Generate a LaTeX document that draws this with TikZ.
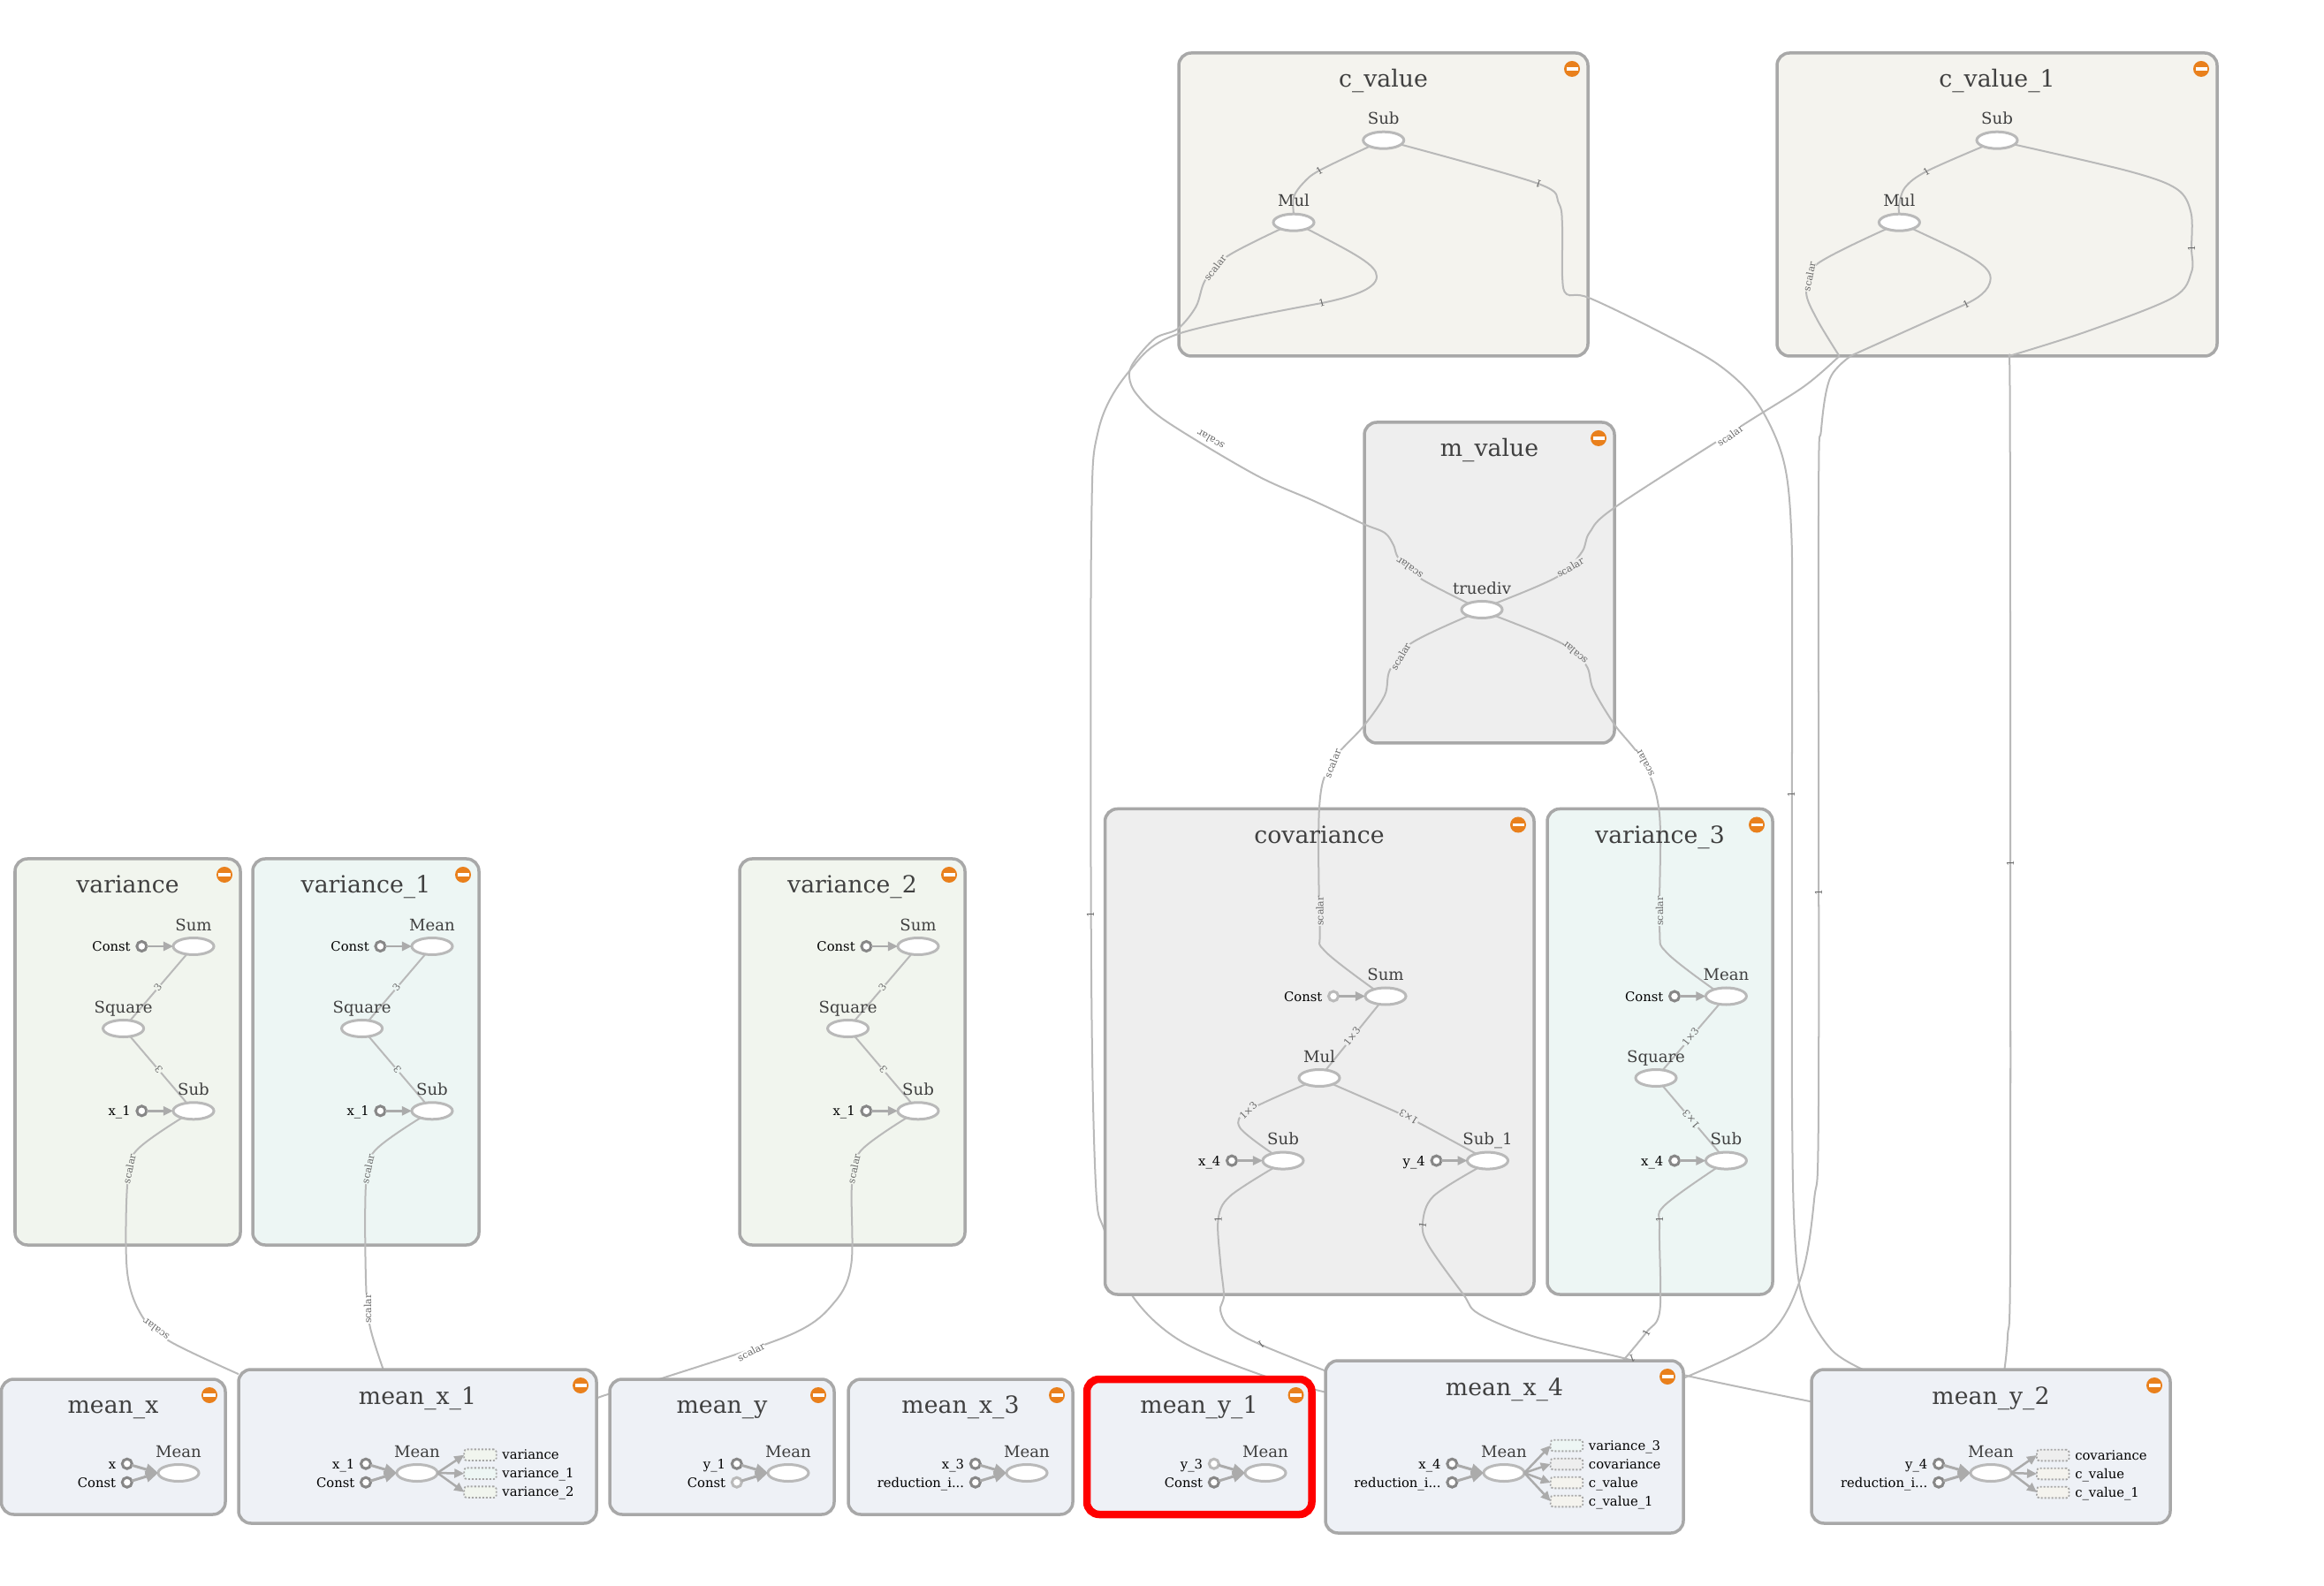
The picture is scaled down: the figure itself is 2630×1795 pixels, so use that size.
\documentclass[tikz,border=0pt]{standalone}
\usepackage{fontspec}
\setmainfont{DejaVu Serif}
\usetikzlibrary{shapes.geometric,arrows.meta}
\colorlet{background}{white}
\definecolor{penColor}{HTML}{A8A8A8}
\definecolor{flowColor}{HTML}{B9B9B9}
\definecolor{arrowColor}{HTML}{ABABAB}
\definecolor{collapseColor}{HTML}{E9801C}
\definecolor{cvalueFill}{HTML}{F4F3EE}
\definecolor{greenFill}{HTML}{F1F5EE}
\definecolor{tealFill}{HTML}{EDF6F4}
\definecolor{grayFill}{HTML}{EEEEEE}
\definecolor{meanFill}{HTML}{EEF1F6}
\pgfdeclarelayer{cgroup}
\pgfdeclarelayer{loweredge}
\pgfdeclarelayer{group}
\pgfdeclarelayer{edge}
\pgfdeclarelayer{meangroup}
\pgfsetlayers{cgroup,loweredge,group,edge,meangroup,main}
\tikzset{>={Stealth[length=.11cm,width=.1cm,inset=0pt]},
	groupbox/.style={draw=penColor,line width=.035cm,rounded corners=.14cm,inner sep=0,outer sep=0},
	grouptitle/.style={anchor=south,inner sep=0,text depth=0pt,text=black!75,font=\fontsize{7.6}{9}\selectfont},
	minusdot/.style={circle,fill=collapseColor,minimum size=.18cm,inner sep=0,
		path picture={\fill[white] ([xshift=-.065cm,yshift=-.018cm]path picture bounding box.center) rectangle ([xshift=.065cm,yshift=.018cm]path picture bounding box.center);}},
	opnode/.style={ellipse,draw=flowColor,line width=.03cm,fill=white,minimum width=.46cm,minimum height=.19cm,inner sep=0,outer sep=0},
	oplabel/.style={inner sep=0,text depth=0pt,yshift=.075cm,text=black!75,font=\fontsize{5.15}{6}\selectfont},
	inputdot/.style={circle,draw=black!47,line width=.03cm,fill=white,minimum size=.11cm,inner sep=0,outer sep=0},
	lightdot/.style={inputdot,draw=black!27},
	inputlabel/.style={inner sep=0,text height=.11cm,text depth=0pt,xshift=-.065cm,font=\fontsize{4.2}{5}\selectfont},
	stubbox/.style={draw=black!35,line width=.018cm,dash pattern=on .02cm off .02cm,rounded corners=.03cm,minimum width=.365cm,minimum height=.127cm,inner sep=0,outer sep=0},
	stublabel/.style={inner sep=0,text height=.1cm,text depth=0pt,xshift=.06cm,font=\fontsize{4.2}{5}\selectfont},
	dataflow/.style={->,draw=arrowColor,line width=.025cm},
	meanflow/.style={-{Stealth[length=.14cm,width=.125cm,inset=0pt]},draw=arrowColor,line width=.03cm},
	flow/.style={draw=flowColor,line width=.02cm},
	edgetag/.style={inner sep=0,text=black!60,font=\fontsize{3.1}{4}\selectfont},
	scalartag/.style={edgetag,inner sep=.005cm}}
\newcommand{\opgroup}[7][group]{%
	\begin{pgfonlayer}{#1}
	\node [groupbox,#7,minimum width={(#5-#3)*.01cm},minimum height={(#6-#4)*.01cm}] (#2) at ({(#3+#5)/2},{(#4+#6)/2}) {};
	\end{pgfonlayer}
	\node [minusdot] (#2minus) at ({#5-18},{#4+18}) {};
}
\begin{document}
\begin{tikzpicture}[x=.01cm,y=-.01cm]
	\useasboundingbox (0,0) rectangle (2630,1795);
	% the groups
	\opgroup[cgroup]{cvalue}{1334}{60}{1797}{403}{fill=cvalueFill}
	\opgroup[cgroup]{cvalueone}{2011}{60}{2509}{403}{fill=cvalueFill}
	\opgroup{mvalue}{1544}{478}{1827}{841}{fill=grayFill}
	\opgroup{covar}{1250.5}{915.5}{1736}{1465}{fill=grayFill}
	\opgroup{varthree}{1751}{915.5}{2006}{1465}{fill=tealFill}
	\opgroup{var}{17}{972}{272}{1409}{fill=greenFill}
	\opgroup{varone}{286}{972}{542}{1409}{fill=tealFill}
	\opgroup{vartwo}{837}{972}{1092}{1409}{fill=greenFill}
	\opgroup[meangroup]{meanx}{1.5}{1561}{255}{1714}{fill=meanFill}
	\opgroup[meangroup]{meanxone}{270}{1550}{675}{1724}{fill=meanFill}
	\opgroup[meangroup]{meany}{690}{1561}{944}{1714}{fill=meanFill}
	\opgroup[meangroup]{meanxthree}{960}{1561}{1214}{1714}{fill=meanFill}
	\opgroup[meangroup]{meanyone}{1230}{1561}{1484.5}{1714}{fill=meanFill,draw=red,line width=.085cm}
	\opgroup[meangroup]{meanxfour}{1500}{1540}{1905}{1735}{fill=meanFill}
	\opgroup[meangroup]{meanytwo}{2050}{1550}{2456}{1724}{fill=meanFill}
	\node [grouptitle] (cvalueT) at (1565.5,99.5) {c\_value};
	\node [grouptitle] (cvalueoneT) at (2260,99.5) {c\_value\_1};
	\node [grouptitle] (mvalueT) at (1685.5,517.5) {m\_value};
	\node [grouptitle] (covarT) at (1493,955) {covariance};
	\node [grouptitle] (varthreeT) at (1878.5,955) {variance\_3};
	\node [grouptitle] (varT) at (144.5,1011.5) {variance};
	\node [grouptitle] (varoneT) at (414,1011.5) {variance\_1};
	\node [grouptitle] (vartwoT) at (964.5,1011.5) {variance\_2};
	\node [grouptitle] (meanxT) at (128,1600.5) {mean\_x};
	\node [grouptitle] (meanxoneT) at (472.5,1590) {mean\_x\_1};
	\node [grouptitle] (meanyT) at (817,1600.5) {mean\_y};
	\node [grouptitle] (meanxthreeT) at (1087,1600.5) {mean\_x\_3};
	\node [grouptitle] (meanyoneT) at (1357,1600.5) {mean\_y\_1};
	\node [grouptitle] (meanxfourT) at (1702.5,1580) {mean\_x\_4};
	\node [grouptitle] (meanytwoT) at (2253,1590) {mean\_y\_2};
	% ops of c_value and c_value_1
	\node [opnode,label={[oplabel]above:Sub}] (cSub) at (1565.7,158.7) {};
	\node [opnode,label={[oplabel]above:Mul}] (cMul) at (1464,251.7) {};
	\node [opnode,label={[oplabel]above:Sub}] (coSub) at (2260,158.7) {};
	\node [opnode,label={[oplabel]above:Mul}] (coMul) at (2149.4,251.7) {};
	% m_value
	\node [opnode,label={[oplabel]above:truediv}] (truediv) at (1677,690) {};
	% covariance
	\node [opnode,label={[oplabel]above:Sum}] (covSum) at (1568,1127.5) {};
	\node [lightdot,label={[inputlabel]left:Const}] (covConst) at (1509,1127.5) {};
	\node [opnode,label={[oplabel]above:Mul}] (covMul) at (1493,1220) {};
	\node [opnode,label={[oplabel]above:Sub}] (covSub) at (1452,1313.6) {};
	\node [inputdot,label={[inputlabel]left:x\_4}] (covX) at (1394,1313.6) {};
	\node [opnode,label={[oplabel]above:Sub\_1}] (covSubOne) at (1683.5,1313.6) {};
	\node [inputdot,label={[inputlabel]left:y\_4}] (covY) at (1625.5,1313.6) {};
	% variance_3
	\node [opnode,label={[oplabel]above:Mean}] (vtMean) at (1953.4,1127.5) {};
	\node [inputdot,label={[inputlabel]left:Const}] (vtConst) at (1895,1127.5) {};
	\node [opnode,label={[oplabel]above:Square}] (vtSquare) at (1874,1220) {};
	\node [opnode,label={[oplabel]above:Sub}] (vtSub) at (1953.4,1313.6) {};
	\node [inputdot,label={[inputlabel]left:x\_4}] (vtX) at (1895,1313.6) {};
	% variance
	\node [opnode,label={[oplabel]above:Sum}] (vaSum) at (219,1071) {};
	\node [inputdot,label={[inputlabel]left:Const}] (vaConst) at (160.4,1071) {};
	\node [opnode,label={[oplabel]above:Square}] (vaSquare) at (139.6,1164) {};
	\node [opnode,label={[oplabel]above:Sub}] (vaSub) at (219,1257.3) {};
	\node [inputdot,label={[inputlabel]left:x\_1}] (vaX) at (160.4,1257.3) {};
	% variance_1
	\node [opnode,label={[oplabel]above:Mean}] (voMean) at (489,1071) {};
	\node [inputdot,label={[inputlabel]left:Const}] (voConst) at (430.4,1071) {};
	\node [opnode,label={[oplabel]above:Square}] (voSquare) at (409.6,1164) {};
	\node [opnode,label={[oplabel]above:Sub}] (voSub) at (489,1257.3) {};
	\node [inputdot,label={[inputlabel]left:x\_1}] (voX) at (430.4,1257.3) {};
	% variance_2
	\node [opnode,label={[oplabel]above:Sum}] (vwSum) at (1039,1071) {};
	\node [inputdot,label={[inputlabel]left:Const}] (vwConst) at (980.4,1071) {};
	\node [opnode,label={[oplabel]above:Square}] (vwSquare) at (959.6,1164) {};
	\node [opnode,label={[oplabel]above:Sub}] (vwSub) at (1039,1257.3) {};
	\node [inputdot,label={[inputlabel]left:x\_1}] (vwX) at (980.4,1257.3) {};
	% mean groups
	\node [opnode,label={[oplabel]above:Mean}] (mxMean) at (202,1667) {};
	\node [inputdot,label={[inputlabel]left:x}] (mxA) at (143.8,1656.7) {};
	\node [inputdot,label={[inputlabel]left:Const}] (mxB) at (143.8,1677.7) {};
	\node [opnode,label={[oplabel]above:Mean}] (moMean) at (472,1667) {};
	\node [inputdot,label={[inputlabel]left:x\_1}] (moA) at (414,1656.7) {};
	\node [inputdot,label={[inputlabel]left:Const}] (moB) at (414,1677.7) {};
	\node [stubbox,fill=greenFill,label={[stublabel]right:variance}] (moC) at (543.5,1646.7) {};
	\node [stubbox,fill=tealFill,label={[stublabel]right:variance\_1}] (moD) at (543.5,1667.7) {};
	\node [stubbox,fill=greenFill,label={[stublabel]right:variance\_2}] (moE) at (543.5,1688.7) {};
	\node [opnode,label={[oplabel]above:Mean}] (myMean) at (892,1667) {};
	\node [inputdot,label={[inputlabel]left:y\_1}] (myA) at (833.8,1656.7) {};
	\node [lightdot,label={[inputlabel]left:Const}] (myB) at (833.8,1677.7) {};
	\node [opnode,label={[oplabel]above:Mean}] (mtMean) at (1162,1667) {};
	\node [inputdot,label={[inputlabel]left:x\_3}] (mtA) at (1103.8,1656.7) {};
	\node [inputdot,label={[inputlabel]left:reduction\_i...}] (mtB) at (1103.8,1677.7) {};
	\node [opnode,label={[oplabel]above:Mean}] (muMean) at (1432,1667) {};
	\node [lightdot,label={[inputlabel]left:y\_3}] (muA) at (1373.8,1656.7) {};
	\node [inputdot,label={[inputlabel]left:Const}] (muB) at (1373.8,1677.7) {};
	\node [opnode,label={[oplabel]above:Mean}] (mfMean) at (1702,1667) {};
	\node [inputdot,label={[inputlabel]left:x\_4}] (mfA) at (1643.3,1656.7) {};
	\node [inputdot,label={[inputlabel]left:reduction\_i...}] (mfB) at (1643.3,1677.7) {};
	\node [stubbox,fill=tealFill,label={[stublabel]right:variance\_3}] (mfC) at (1773,1636) {};
	\node [stubbox,fill=grayFill,label={[stublabel]right:covariance}] (mfD) at (1773,1657) {};
	\node [stubbox,fill=cvalueFill,label={[stublabel]right:c\_value}] (mfE) at (1773,1678) {};
	\node [stubbox,fill=cvalueFill,label={[stublabel]right:c\_value\_1}] (mfF) at (1773,1699) {};
	\node [opnode,label={[oplabel]above:Mean}] (mwMean) at (2253,1667) {};
	\node [inputdot,label={[inputlabel]left:y\_4}] (mwA) at (2194,1656.7) {};
	\node [inputdot,label={[inputlabel]left:reduction\_i...}] (mwB) at (2194,1677.7) {};
	\node [stubbox,fill=grayFill,label={[stublabel]right:covariance}] (mwC) at (2323.3,1647) {};
	\node [stubbox,fill=cvalueFill,label={[stublabel]right:c\_value}] (mwD) at (2323.3,1668) {};
	\node [stubbox,fill=cvalueFill,label={[stublabel]right:c\_value\_1}] (mwE) at (2323.3,1689) {};
	% arrows inside the groups
	\draw [dataflow] (covConst) -- (covSum.west);
	\draw [dataflow] (covX) -- (covSub.west);
	\draw [dataflow] (covY) -- (covSubOne.west);
	\draw [dataflow] (vtConst) -- (vtMean.west);
	\draw [dataflow] (vtX) -- (vtSub.west);
	\draw [dataflow] (vaConst) -- (vaSum.west);
	\draw [dataflow] (vaX) -- (vaSub.west);
	\draw [dataflow] (voConst) -- (voMean.west);
	\draw [dataflow] (voX) -- (voSub.west);
	\draw [dataflow] (vwConst) -- (vwSum.west);
	\draw [dataflow] (vwX) -- (vwSub.west);
	\draw [meanflow] (mxA) -- (mxMean.west);
	\draw [meanflow] (mxB) -- (mxMean.west);
	\draw [meanflow] (moA) -- (moMean.west);
	\draw [meanflow] (moB) -- (moMean.west);
	\draw [dataflow] (moMean.east) -- (moC.west);
	\draw [dataflow] (moMean.east) -- (moD.west);
	\draw [dataflow] (moMean.east) -- (moE.west);
	\draw [meanflow] (myA) -- (myMean.west);
	\draw [meanflow] (myB) -- (myMean.west);
	\draw [meanflow] (mtA) -- (mtMean.west);
	\draw [meanflow] (mtB) -- (mtMean.west);
	\draw [meanflow] (muA) -- (muMean.west);
	\draw [meanflow] (muB) -- (muMean.west);
	\draw [meanflow] (mfA) -- (mfMean.west);
	\draw [meanflow] (mfB) -- (mfMean.west);
	\draw [dataflow] (mfMean.east) -- (mfC.west);
	\draw [dataflow] (mfMean.east) -- (mfD.west);
	\draw [dataflow] (mfMean.east) -- (mfE.west);
	\draw [dataflow] (mfMean.east) -- (mfF.west);
	\draw [meanflow] (mwA) -- (mwMean.west);
	\draw [meanflow] (mwB) -- (mwMean.west);
	\draw [dataflow] (mwMean.east) -- (mwC.west);
	\draw [dataflow] (mwMean.east) -- (mwD.west);
	\draw [dataflow] (mwMean.east) -- (mwE.west);
	% this one runs behind covariance and mean_y_1
	\begin{pgfonlayer}{loweredge}
	\draw [flow] (cMul.334) .. controls (1535,288) and (1558,300) .. (1558,313) .. controls (1558,328) and (1525,337) .. (1496,343) plot[smooth,tension=.55] coordinates {(1496,343) (1333,378) (1278,420) (1243,487) (1235,607) (1235,1100) (1240,1340) (1250,1393) (1281,1466) (1335,1517) (1427,1556) (meanxfour.163.6)};
	\end{pgfonlayer}
	% edges on top of the groups
	\begin{pgfonlayer}{edge}
	\draw [flow] plot[smooth,tension=.55] coordinates {(cSub.204) (1493,193) (1475,207) (1464,223) (cMul.north)};
	\draw [flow] plot[smooth,tension=.55] coordinates {(cSub.346) (1741,208) (1764,230) (1768,257) (1768,313) (1773,333) (1798,337) (1877,375) (1945,413) (1988,455) (2017.5,518) (2027,598) (2028,740) (2028,1248) (2032,1413) (2043,1479) (2073,1528) (meanytwo.149.2)};
	\draw [flow] plot[smooth,tension=.55] coordinates {(cMul.207) (1389,290) (1364,317) (1353.5,347) (1333,372) (1307,383) (1283,410) (1278,427) (1287,447) (1320,477) (1420,537) (1487,567) (1543,593) (1567,603) (1577,617) (1583,632) (1608,655) (truediv.155)};
	\draw [flow] plot[smooth,tension=.55] coordinates {(coSub.204) (2180,194) (2156,212) (2149,232) (coMul.north)};
	\draw [flow] plot[smooth,tension=.55] coordinates {(coSub.346) (2410,194) (2463.5,214) (2479.5,241) (2480,281) (2480,308) (2458.6,337) (2362,375) (2273.5,403)} plot[smooth,tension=.55] coordinates {(2273.5,403) (2274.5,442) (2275,740) (2275,1413) (2272,1512) (meanytwo.80.9)};
	\draw [flow] plot[smooth,tension=.55] coordinates {(coMul.207) (2056,299) (2044,330) (2056,361) (2081.5,403)} plot[smooth,tension=.55] coordinates {(2081.5,403) (2042,437) (1974,480) (1828.5,573.5) (1799,602.5) (1790,625) (1762,653) (truediv.25)};
	\draw [flow] (coMul.334) .. controls (2215,283) and (2252.6,298) .. (2252.6,314.5) .. controls (2252.6,330) and (2235,339) .. (2225,344) -- (2095,402.5) plot[smooth,tension=.55] coordinates {(2095,402.5) (2071,428) (2061,486) (2058,576) (2058,1248) (2053,1358) (2038,1446) (2000,1512) (meanxfour.21.4)};
	\draw [flow] plot[smooth,tension=.55] coordinates {(truediv.205) (1597,728) (1573,758) (1567,787) (1543,822) (1506,864) (1493,914) (1493.6,1050) (1499,1076) (covSum.149)};
	\draw [flow] plot[smooth,tension=.55] coordinates {(truediv.335) (1767,728) (1795,753) (1803,780) (1827,820) (1860,863) (1878,922) (1878,1050) (1886,1078) (vtMean.151)};
	\draw [flow] (covMul) -- (covSum);
	\draw [flow] plot[smooth,tension=.55] coordinates {(covMul.205) (1412.6,1257) (1403,1276) (covSub.146)};
	\draw [flow] plot[smooth,tension=.55] coordinates {(covMul.335) (1582.6,1259.6) (1606,1271) (covSubOne.149)};
	\draw [flow] plot[smooth,tension=.55] coordinates {(covSub.217) (1391.7,1354) (1378.6,1380) (1381,1428) (1385,1466) (1381,1483) (1392,1503) (1427,1522) (meanxfour.157.4)};
	\draw [flow] plot[smooth,tension=.55] coordinates {(covSubOne.217) (1622,1354) (1610,1384) (1616.6,1409.5) (1656,1465) (1673.5,1487) (1737,1513) (1837,1537) (1909,1557) (meanytwo.166.7)};
	\draw [flow] (vtSquare) -- (vtMean);
	\draw [flow] (vtSquare) -- (vtSub);
	\draw [flow] plot[smooth,tension=.55] coordinates {(vtSub.217) (1883,1365) (1878,1390) (1878.4,1483) (1863,1508) (meanxfour.36.6)};
	\draw [flow] (vaSquare) -- (vaSum);
	\draw [flow] (vaSquare) -- (vaSub);
	\draw [flow] plot[smooth,tension=.55] coordinates {(vaSub.211) (153.6,1303) (144,1341.7) (144,1440) (161,1490) (192,1518) (meanxone.158)};
	\draw [flow] (voSquare) -- (voMean);
	\draw [flow] (voSquare) -- (voSub);
	\draw [flow] plot[smooth,tension=.55] coordinates {(voSub.211) (423.6,1303) (414,1341.7) (414,1447) (418.4,1500) (meanxone.114)};
	\draw [flow] (vwSquare) -- (vwSum);
	\draw [flow] (vwSquare) -- (vwSub);
	\draw [flow] plot[smooth,tension=.55] coordinates {(vwSub.211) (973.6,1303) (964,1341.7) (963.4,1430) (945,1473) (896,1510) (752,1559) (688,1578) (meanxone.15.2)};
	\end{pgfonlayer}
	% shape tags on the edges
	\node [edgetag,rotate=30] (tagA) at (1493,193) {1};
	\node [edgetag,rotate=160] (tagB) at (1741,208) {1};
	\node [edgetag,rotate=15] (tagC) at (1496,343) {1};
	\node [scalartag,fill=cvalueFill,rotate=52] (tagD) at (1375,303) {scalar};
	\node [scalartag,fill=white,rotate=150] (tagE) at (1370,498) {scalar};
	\node [scalartag,fill=grayFill,rotate=145] (tagF) at (1595,643) {scalar};
	\node [edgetag,rotate=30] (tagG) at (2180,194) {1};
	\node [edgetag,rotate=90] (tagH) at (2480,281) {1};
	\node [edgetag,rotate=25] (tagI) at (2225,344) {1};
	\node [scalartag,fill=cvalueFill,rotate=78] (tagJ) at (2047.6,313) {scalar};
	\node [scalartag,fill=white,rotate=35] (tagK) at (1958,493) {scalar};
	\node [scalartag,fill=grayFill,rotate=30] (tagL) at (1777,642) {scalar};
	\node [scalartag,fill=grayFill,rotate=60] (tagM) at (1585,743) {scalar};
	\node [scalartag,fill=white,rotate=68] (tagN) at (1508,864) {scalar};
	\node [scalartag,fill=grayFill,rotate=90] (tagO) at (1493.6,1031) {scalar};
	\node [scalartag,fill=grayFill,rotate=140] (tagP) at (1782,739) {scalar};
	\node [scalartag,fill=white,rotate=118] (tagQ) at (1861,864) {scalar};
	\node [scalartag,fill=tealFill,rotate=90] (tagR) at (1878,1031) {scalar};
	\node [edgetag,rotate=90] (tagS) at (1234,1035) {1};
	\node [edgetag,rotate=90] (tagT) at (2027,899) {1};
	\node [edgetag,rotate=90] (tagU) at (2058,1010) {1};
	\node [edgetag,rotate=90] (tagV) at (2275,977) {1};
	\node [scalartag,fill=grayFill,rotate=51] (tagW) at (1530,1173) {1×3};
	\node [scalartag,fill=grayFill,rotate=45] (tagX) at (1412.6,1257) {1×3};
	\node [scalartag,fill=grayFill,rotate=148] (tagY) at (1594,1264) {1×3};
	\node [scalartag,fill=tealFill,rotate=51] (tagZ) at (1913,1173.4) {1×3};
	\node [scalartag,fill=tealFill,rotate=130] (tagAa) at (1913.6,1267) {1×3};
	\node [edgetag,rotate=90] (tagAb) at (1378.6,1380) {1};
	\node [edgetag,rotate=80] (tagAc) at (1610,1386) {1};
	\node [edgetag,rotate=90] (tagAd) at (1878,1380) {1};
	\node [edgetag,rotate=215] (tagAe) at (1427,1522) {1};
	\node [edgetag,rotate=60] (tagAf) at (1863,1508) {1};
	\node [edgetag,rotate=200] (tagAg) at (1847,1537) {1};
	\node [scalartag,fill=greenFill,rotate=52] (tagAh) at (178.6,1117) {3};
	\node [scalartag,fill=greenFill,rotate=130] (tagAi) at (179.6,1210.7) {3};
	\node [scalartag,fill=greenFill,rotate=78] (tagAj) at (146.4,1323) {scalar};
	\node [scalartag,fill=white,rotate=144] (tagAk) at (176.5,1505) {scalar};
	\node [scalartag,fill=tealFill,rotate=52] (tagAl) at (448.6,1117) {3};
	\node [scalartag,fill=tealFill,rotate=130] (tagAm) at (449.6,1210.7) {3};
	\node [scalartag,fill=tealFill,rotate=78] (tagAn) at (416.4,1323) {scalar};
	\node [scalartag,fill=white,rotate=90] (tagAo) at (416,1481) {scalar};
	\node [scalartag,fill=greenFill,rotate=52] (tagAp) at (998.6,1117) {3};
	\node [scalartag,fill=greenFill,rotate=130] (tagAq) at (999.6,1210.7) {3};
	\node [scalartag,fill=greenFill,rotate=78] (tagAr) at (966.4,1323) {scalar};
	\node [scalartag,fill=white,rotate=28] (tagAs) at (850,1530) {scalar};
\end{tikzpicture}
\end{document}
